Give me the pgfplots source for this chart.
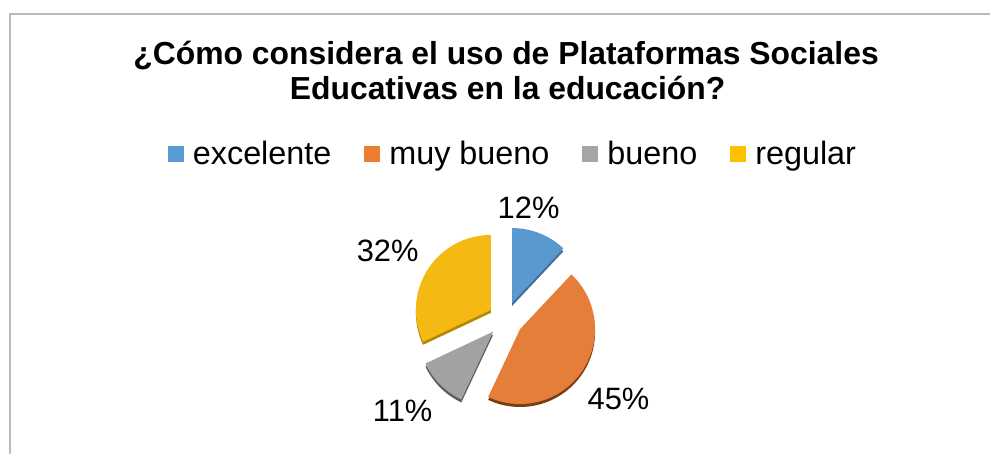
\documentclass[border=0pt]{standalone}
\usepackage{pgfplots}
\pgfplotsset{compat=1.18}
\usepackage{fontspec}
\setmainfont{Liberation Sans}

\definecolor{cBlue}{HTML}{5B9BD5}
\definecolor{cOrange}{HTML}{ED7D31}
\definecolor{cGray}{HTML}{A5A5A5}
\definecolor{cYellow}{HTML}{FFC000}
% slice colours (a bit shaded, as in the 3-D pie)
\definecolor{sBlue}{HTML}{5A98D0}
\definecolor{sOrange}{HTML}{E47E38}
\definecolor{sGray}{HTML}{A2A2A2}
\definecolor{sYellow}{HTML}{F4B912}
\definecolor{dBlue}{HTML}{3F6E99}
\definecolor{dOrange}{HTML}{7A3E16}
\definecolor{dGray}{HTML}{5E5E5E}
\definecolor{dYellow}{HTML}{B58700}

% data (percent)
\def\vExc{12}
\def\vMuy{45}
\def\vBue{11}
\def\vReg{32}

% pie centre, radius and explode distance (axis units = bp)
\def\cx{506}
\def\cy{134.5}
\def\rad{75}
\def\expl{17.5}

% #1 start angle, #2 value in percent, #3 fill, #4 rim colour
\newcommand\slice[4]{%
  \pgfplotsextra{%
    \pgfmathsetmacro\sweep{3.6*#2}%
    \pgfmathsetmacro\endang{#1-\sweep}%
    \pgfmathsetmacro\midang{#1-\sweep/2}%
    \pgfmathsetmacro\ex{\cx+\expl*cos(\midang)}%
    \pgfmathsetmacro\ey{\cy+\expl*sin(\midang)}%
    \pgfmathsetmacro\eyy{\ey-3}%
    \fill[#4] (axis cs:\ex,\eyy) -- ++(#1:\rad bp)
      arc[start angle=#1, end angle=\endang, radius=\rad bp] -- cycle;
    \fill[#3] (axis cs:\ex,\ey) -- ++(#1:\rad bp)
      arc[start angle=#1, end angle=\endang, radius=\rad bp] -- cycle;
  }%
}

\begin{document}
\begin{tikzpicture}
\begin{axis}[
  width=991bp, height=454bp, scale only axis,
  xmin=0, xmax=991, ymin=0, ymax=454,
  hide axis, clip=false,
  legend columns=4,
  legend image code/.code={\path[#1] (0bp,-8bp) rectangle (16bp,8bp);},
  legend style={draw=none, fill=none,
    at={(axis description cs:0.518,0.661)}, anchor=center,
    font=\fontsize{32.5}{38}\selectfont,
    /tikz/every odd column/.append style={column sep=7bp},
    /tikz/every even column/.append style={column sep=31bp}},
]
\path (axis cs:0,0) rectangle (axis cs:991,454);

\addlegendimage{fill=cBlue, draw=none}
\addlegendentry{excelente}
\addlegendimage{fill=cOrange, draw=none}
\addlegendentry{muy bueno}
\addlegendimage{fill=cGray, draw=none}
\addlegendentry{bueno}
\addlegendimage{fill=cYellow, draw=none}
\addlegendentry{regular}

% frame
\draw[gray!55, line width=1.5bp] (axis cs:10,0) -- (axis cs:10,440) -- (axis cs:991,440);

% title
\node[anchor=base, font=\fontsize{32}{38}\selectfont\bfseries] at (axis cs:506.5,389) {¿Cómo considera el uso de Plataformas Sociales};
\node[anchor=base, font=\fontsize{32}{38}\selectfont\bfseries] at (axis cs:508,354) {Educativas en la educación?};

% slices, clockwise from the top
\slice{90}{\vExc}{sBlue}{dBlue}
\slice{46.8}{\vMuy}{sOrange}{dOrange}
\slice{-115.2}{\vBue}{sGray}{dGray}
\slice{-154.8}{\vReg}{sYellow}{dYellow}

% data labels
\node[anchor=base, font=\fontsize{31}{36}\selectfont] at (axis cs:529,235) {\vExc\%};
\node[anchor=base, font=\fontsize{31}{36}\selectfont] at (axis cs:619,44) {\vMuy\%};
\node[anchor=base, font=\fontsize{31}{36}\selectfont] at (axis cs:403,32.5) {\vBue\%};
\node[anchor=base, font=\fontsize{31}{36}\selectfont] at (axis cs:388,192.5) {\vReg\%};
\end{axis}
\end{tikzpicture}
\end{document}
